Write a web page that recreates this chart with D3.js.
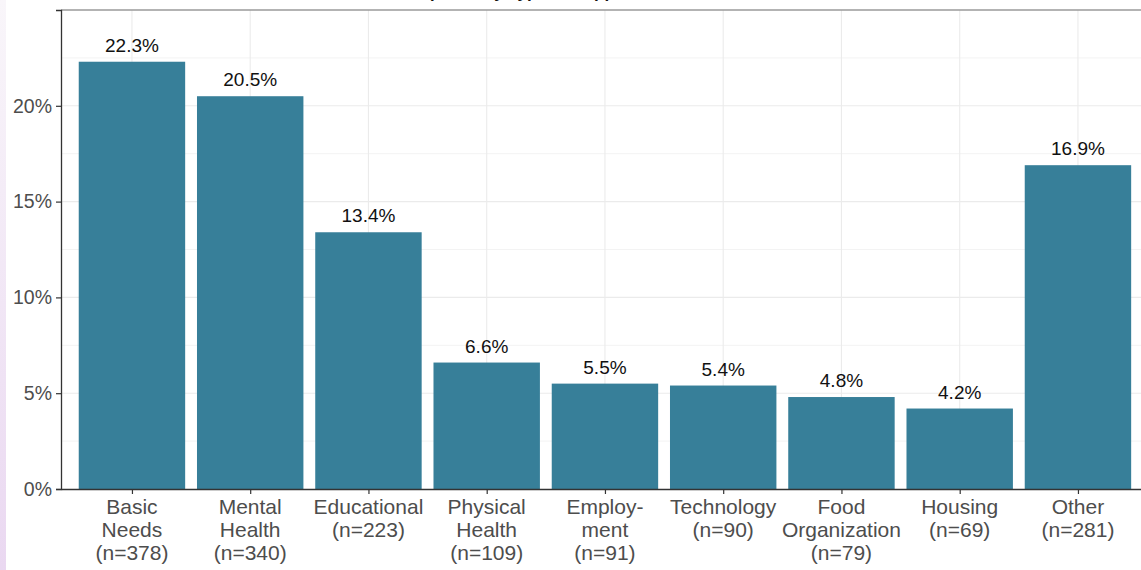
<!DOCTYPE html>
<html>
<head>
<meta charset="utf-8">
<script src="https://cdn.jsdelivr.net/npm/d3@7"></script>
<style>
  html, body { margin: 0; padding: 0; background: #ffffff; }
  svg { display: block; font-family: "Liberation Sans", Arial, sans-serif; }
</style>
</head>
<body>
<svg id="chart" width="1141" height="570"></svg>
<script>
// Support categories (each label line) and their share of responses
const categoryLines = [
  ["Basic", "Needs", "(n=378)"],
  ["Mental", "Health", "(n=340)"],
  ["Educational", "(n=223)"],
  ["Physical", "Health", "(n=109)"],
  ["Employ-", "ment", "(n=91)"],
  ["Technology", "(n=90)"],
  ["Food", "Organization", "(n=79)"],
  ["Housing", "(n=69)"],
  ["Other", "(n=281)"]
];
const percentValues = [22.3, 20.5, 13.4, 6.6, 5.5, 5.4, 4.8, 4.2, 16.9];
const yTickValues = [0, 5, 10, 15, 20];
const yMinorValues = [2.5, 7.5, 12.5, 17.5, 22.5];
const titleText = "Requests by Type of Support";

(function draw() {
  const svg = d3.select("#chart");
  const W = 1141, H = 570;
  const FONT = "Liberation Sans, Arial, sans-serif";

  // soft lavender strip along the left edge
  const defs = svg.append("defs");
  const grad = defs.append("linearGradient").attr("id", "edge").attr("x1", 0).attr("y1", 0).attr("x2", 0).attr("y2", 1);
  grad.append("stop").attr("offset", "0%").attr("stop-color", "#f9f6fa");
  grad.append("stop").attr("offset", "100%").attr("stop-color", "#ead8f1");
  svg.append("rect").attr("x", 0).attr("y", 0).attr("width", 6).attr("height", H).attr("fill", "url(#edge)");

  // plot panel geometry
  const panelLeft = 61, panelTop = 10, panelBottom = 489;
  const unit = 118.25;                       // one category step
  const idx = d3.range(percentValues.length);
  const x = d3.scaleLinear().domain([0.4, percentValues.length + 0.6])
    .range([panelLeft, panelLeft + unit * (percentValues.length + 0.2)]);
  const y = d3.scaleLinear().domain([0, 25]).range([panelBottom, panelTop]);
  const barW = 0.9;

  // title, mostly above the visible area
  svg.append("text")
    .attr("x", 520).attr("y", -2)
    .attr("text-anchor", "middle")
    .attr("font-size", 17).attr("font-weight", "bold").attr("fill", "#111")
    .text(titleText);

  // grid: minor, then major
  const grid = svg.append("g");
  grid.selectAll("line.minor").data(yMinorValues).join("line").attr("class", "minor")
    .attr("x1", panelLeft).attr("x2", W).attr("y1", d => y(d)).attr("y2", d => y(d))
    .attr("stroke", "#f3f3f3").attr("stroke-width", 1);
  grid.selectAll("line.majorY").data(yTickValues.slice(1)).join("line").attr("class", "majorY")
    .attr("x1", panelLeft).attr("x2", W).attr("y1", d => y(d)).attr("y2", d => y(d))
    .attr("stroke", "#ebebeb").attr("stroke-width", 1.1);
  grid.selectAll("line.majorX").data(idx).join("line").attr("class", "majorX")
    .attr("x1", d => x(d + 1)).attr("x2", d => x(d + 1)).attr("y1", panelTop).attr("y2", panelBottom)
    .attr("stroke", "#ebebeb").attr("stroke-width", 1.1);

  // bars
  svg.append("g").selectAll("rect").data(idx).join("rect")
    .attr("x", d => x(d + 1 - barW / 2))
    .attr("width", d => x(d + 1 + barW / 2) - x(d + 1 - barW / 2))
    .attr("y", d => y(percentValues[d]))
    .attr("height", d => y(0) - y(percentValues[d]))
    .attr("fill", "#377f99");

  // value labels
  svg.append("g").selectAll("text").data(idx).join("text")
    .attr("x", d => x(d + 1))
    .attr("y", d => y(percentValues[d]) - 10)
    .attr("text-anchor", "middle")
    .attr("font-size", 19).attr("fill", "#111")
    .text(d => percentValues[d].toFixed(1) + "%");

  // panel top border
  svg.append("line").attr("x1", panelLeft).attr("x2", W).attr("y1", panelTop).attr("y2", panelTop)
    .attr("stroke", "#9a9a9a").attr("stroke-width", 1.3);

  // y axis
  const yAxis = svg.append("g").attr("transform", `translate(${panelLeft},0)`)
    .call(d3.axisLeft(y).tickValues(yTickValues).tickFormat(d => d + "%").tickSize(5).tickPadding(4));
  yAxis.select(".domain").attr("stroke", "#333").attr("stroke-width", 1.3);
  yAxis.selectAll(".tick line").attr("stroke", "#333").attr("stroke-width", 1.2);
  yAxis.selectAll(".tick text").attr("font-size", 19.5).attr("fill", "#4d4d4d")
    .attr("font-family", FONT);

  // x axis
  const xAxis = svg.append("g").attr("transform", `translate(0,${panelBottom})`)
    .call(d3.axisBottom(x).tickValues(idx.map(i => i + 1)).tickFormat("").tickSize(5).tickSizeOuter(0));
  xAxis.select(".domain").attr("stroke", "#333").attr("stroke-width", 1.3);
  xAxis.selectAll(".tick line").attr("stroke", "#333").attr("stroke-width", 1.2);

  // multi-line category labels
  const lab = svg.append("g").selectAll("text").data(idx).join("text")
    .attr("text-anchor", "middle")
    .attr("font-size", 21).attr("fill", "#4d4d4d");
  lab.each(function(d) {
    d3.select(this).selectAll("tspan").data(categoryLines[d]).join("tspan")
      .attr("x", x(d + 1))
      .attr("y", (t, i) => 514 + i * 23)
      .text(t => t);
  });
})();
</script>
</body>
</html>
